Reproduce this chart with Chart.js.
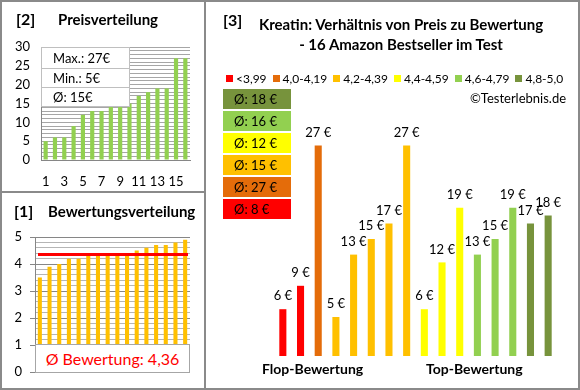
<!DOCTYPE html>
<html lang="de">
<head>
<meta charset="UTF-8">
<title>Kreatin: Preis zu Bewertung</title>
<script src="https://cdn.jsdelivr.net/npm/chart.js"></script>
<style>
  body { margin: 0; background: #fff; font-family: Lato, "Liberation Sans", sans-serif; color: #000; }
  #wrap { position: relative; width: 580px; height: 390px; overflow: hidden; background: #fff; }
  canvas { position: absolute; }
  .abs { position: absolute; white-space: nowrap; }
  .frame { border: 2px solid #8a8a8a; box-sizing: border-box; left: 0; top: 0; width: 580px; height: 390px; }
  .vline { left: 204px; top: 0; width: 2px; height: 390px; background: #8a8a8a; }
  .hline { left: 0; top: 191px; width: 205px; height: 2px; background: #8a8a8a; }
  .num { font-weight: bold; font-size: 16px; }
  .ttl { font-weight: bold; font-size: 15px; }
  #statBox { left: 41px; top: 47px; width: 89px; background: #fff; border: 1px solid #bfbfbf; box-sizing: border-box; font-size: 13px; }
  #statBox div { height: 18px; line-height: 18px; padding-left: 11px; border-top: 1px solid #bfbfbf; }
  #statBox div:first-child { border-top: none; height: 20px; line-height: 20px; }
  #avgBox { left: 35px; top: 344px; width: 155px; height: 29px; background: #fff; border: 1px solid #a6a6a6; box-sizing: border-box;
            color: #ff0000; font-size: 16px; text-align: center; line-height: 27px; }
  #legend { left: 226px; top: 71px; font-size: 12px; display: flex; }
  #legend span.item { display: inline-flex; align-items: center; margin-right: 6px; }
  #legend span.sq { width: 7px; height: 7px; margin-right: 3px; display: inline-block; }
  .avgTag { left: 223px; width: 68px; height: 20px; line-height: 20px; font-size: 13px; padding-left: 11px; box-sizing: border-box; }
</style>
</head>
<body>
<div id="wrap">
  <canvas id="priceChart" width="205" height="192" style="left:0;top:0"></canvas>
  <canvas id="ratingChart" width="205" height="196" style="left:0;top:192px"></canvas>
  <canvas id="mixChart" width="373" height="388" style="left:205px;top:0"></canvas>

  <div class="abs frame"></div>
  <div class="abs vline"></div>
  <div class="abs hline"></div>

  <div class="abs num" style="left:16px;top:9px">[2]</div>
  <div class="abs ttl" style="left:58px;top:10px">Preisverteilung</div>
  <div class="abs" id="statBox"></div>

  <div class="abs num" style="left:14px;top:201px">[1]</div>
  <div class="abs ttl" style="left:48px;top:202px">Bewertungsverteilung</div>
  <div class="abs" id="avgBox"></div>

  <div class="abs num" style="left:223px;top:10px">[3]</div>
  <div class="abs ttl" style="left:200px;width:402px;text-align:center;top:15px">Kreatin: Verhältnis von Preis zu Bewertung</div>
  <div class="abs ttl" style="left:200px;width:402px;text-align:center;top:35px">- 16 Amazon Bestseller im Test</div>
  <div class="abs" id="legend"></div>
  <div class="abs" style="left:470px;top:90px;font-size:13px">©Testerlebnis.de</div>
  <div id="avgTags"></div>
  <div class="abs ttl" style="left:262px;top:360px;font-size:14px">Flop-Bewertung</div>
  <div class="abs ttl" style="left:426px;top:360px;font-size:14px">Top-Bewertung</div>
</div>

<script>
// [2] Preise, aufsteigend sortiert
const priceSorted = [5, 6, 6, 9, 12, 13, 13, 15, 15, 15, 17, 18, 19, 19, 27, 27];
const priceLabels = ['1','2','3','4','5','6','7','8','9','10','11','12','13','14','15','16'];

// [1] Bewertungen, aufsteigend sortiert
const ratingSorted = [3.5, 3.9, 4.0, 4.2, 4.2, 4.3, 4.3, 4.3, 4.4, 4.4, 4.5, 4.6, 4.7, 4.7, 4.8, 4.9];

// [3] Preis je Produkt, in der Reihenfolge der Bewertung
const ratedPrices = [6, 9, 27, 5, 13, 15, 17, 27, 6, 12, 19, 13, 15, 19, 17, 18];

// Bewertungsklassen
const binLabels = ['<3,99', '4,0-4,19', '4,2-4,39', '4,4-4,59', '4,6-4,79', '4,8-5,0'];
const binFrom = [0, 4.0, 4.2, 4.4, 4.6, 4.8];
const binColors = ['#ff0000', '#e46c0a', '#ffc000', '#ffff00', '#92d050', '#77933c'];

const de = n => String(n).replace('.', ',');

function binOf(r) {
  let b = 0;
  binFrom.forEach((f, i) => { if (r >= f - 1e-9) b = i; });
  return b;
}
const ratedBins = ratingSorted.map(binOf);

// ---------- Kennzahlen ----------
const pMax = Math.max(...priceSorted);
const pMin = Math.min(...priceSorted);
const pAvg = Math.round(priceSorted.reduce((a, b) => a + b, 0) / priceSorted.length);
document.getElementById('statBox').innerHTML =
  '<div>Max.: ' + pMax + '€</div><div>Min.: ' + pMin + '€</div><div>Ø: ' + pAvg + '€</div>';

const rAvg = ratingSorted.reduce((a, b) => a + b, 0) / ratingSorted.length;
document.getElementById('avgBox').textContent = 'Ø Bewertung: ' + de(rAvg.toFixed(2));

// Legende
document.getElementById('legend').innerHTML = binLabels.map((l, i) =>
  '<span class="item"><span class="sq" style="background:' + binColors[i] + '"></span>' + l + '</span>').join('');

// Durchschnittspreis je Klasse, oben die beste Klasse
const tagHtml = [];
for (let i = binLabels.length - 1, row = 0; i >= 0; i--, row++) {
  const vals = ratedPrices.filter((p, k) => ratedBins[k] === i);
  const avg = Math.round(vals.reduce((a, b) => a + b, 0) / vals.length);
  tagHtml.push('<div class="abs avgTag" style="top:' + (89 + row * 22) + 'px;background:' + binColors[i] + '">Ø: ' + avg + ' €</div>');
}
document.getElementById('avgTags').innerHTML = tagHtml.join('');

Chart.defaults.font.family = 'Lato, "Liberation Sans", sans-serif';
Chart.defaults.color = '#000';

const base = {
  responsive: false,
  animation: false,
  plugins: { legend: { display: false }, tooltip: { enabled: false } }
};

// ---------- [2] Preisverteilung ----------
new Chart(document.getElementById('priceChart'), {
  type: 'bar',
  data: {
    labels: priceLabels,
    datasets: [{ data: priceSorted, backgroundColor: '#92d050', barPercentage: 0.45, categoryPercentage: 1 }]
  },
  options: {
    ...base,
    layout: { padding: { top: 47, right: 15, left: 0, bottom: 0 } },
    scales: {
      x: {
        grid: { display: false },
        border: { display: true, color: '#868686', width: 1 },
        ticks: { autoSkip: false, maxRotation: 0, padding: 6, font: { size: 13 },
                 callback: (v, i) => (i % 2 === 0 ? priceLabels[i] : '') },
        afterFit: s => { s.height = 32; }
      },
      y: {
        min: 0, max: 30,
        grid: { color: '#a6a6a6', drawTicks: false },
        border: { display: true, color: '#868686' },
        ticks: { stepSize: 1, autoSkip: false, padding: 11, font: { size: 13 },
                 callback: v => (v % 5 === 0 ? v : '') },
        afterFit: s => { s.width = 41; }
      }
    }
  }
});

// ---------- [1] Bewertungsverteilung ----------
const avgLine = {
  id: 'avgLine',
  afterDatasetsDraw(chart) {
    const { ctx, chartArea, scales } = chart;
    const y = scales.y.getPixelForValue(rAvg);
    ctx.save();
    ctx.strokeStyle = '#ff0000';
    ctx.lineWidth = 3;
    ctx.beginPath();
    ctx.moveTo(chartArea.left + 3, y);
    ctx.lineTo(chartArea.right - 2, y);
    ctx.stroke();
    ctx.restore();
  }
};
const isMajor = v => Math.abs(v - Math.round(v)) < 1e-6;

new Chart(document.getElementById('ratingChart'), {
  type: 'bar',
  data: {
    labels: priceLabels,
    datasets: [{ data: ratingSorted, backgroundColor: '#ffc000', barPercentage: 0.42, categoryPercentage: 1 }]
  },
  options: {
    ...base,
    layout: { padding: { top: 45, right: 15, left: 0, bottom: 15 } },
    scales: {
      x: { display: false },
      y: {
        min: 0, max: 5,
        grid: {
          color: c => (isMajor(c.tick.value) ? '#868686' : '#b5b5b5'),
          tickColor: c => (isMajor(c.tick.value) ? '#868686' : 'rgba(0,0,0,0)'),
          tickLength: 5
        },
        border: { display: true, color: '#868686' },
        ticks: { stepSize: 0.2, autoSkip: false, padding: 8, font: { size: 13 },
                 callback: v => (isMajor(v) ? Math.round(v) : '') },
        afterFit: s => { s.width = 35; }
      }
    }
  },
  plugins: [avgLine]
});

// ---------- [3] Preis zu Bewertung ----------
const valueLabels = {
  id: 'valueLabels',
  afterDatasetsDraw(chart) {
    const ctx = chart.ctx;
    ctx.save();
    ctx.font = '13px Lato, "Liberation Sans", sans-serif';
    ctx.fillStyle = '#000';
    ctx.textAlign = 'center';
    ctx.textBaseline = 'middle';
    chart.getDatasetMeta(0).data.forEach((bar, i) => {
      ctx.fillText(ratedPrices[i] + ' €', bar.x, bar.y - 13);
    });
    ctx.restore();
  }
};

new Chart(document.getElementById('mixChart'), {
  type: 'bar',
  data: {
    labels: priceLabels,
    datasets: [{
      data: ratedPrices,
      backgroundColor: ratedBins.map(b => binColors[b]),
      barPercentage: 0.4, categoryPercentage: 1
    }]
  },
  options: {
    ...base,
    layout: { padding: { top: 122, right: 21, left: 69, bottom: 32 } },
    scales: {
      x: { display: false },
      y: { display: false, min: 0, max: 30 }
    }
  },
  plugins: [valueLabels]
});
</script>
</body>
</html>
